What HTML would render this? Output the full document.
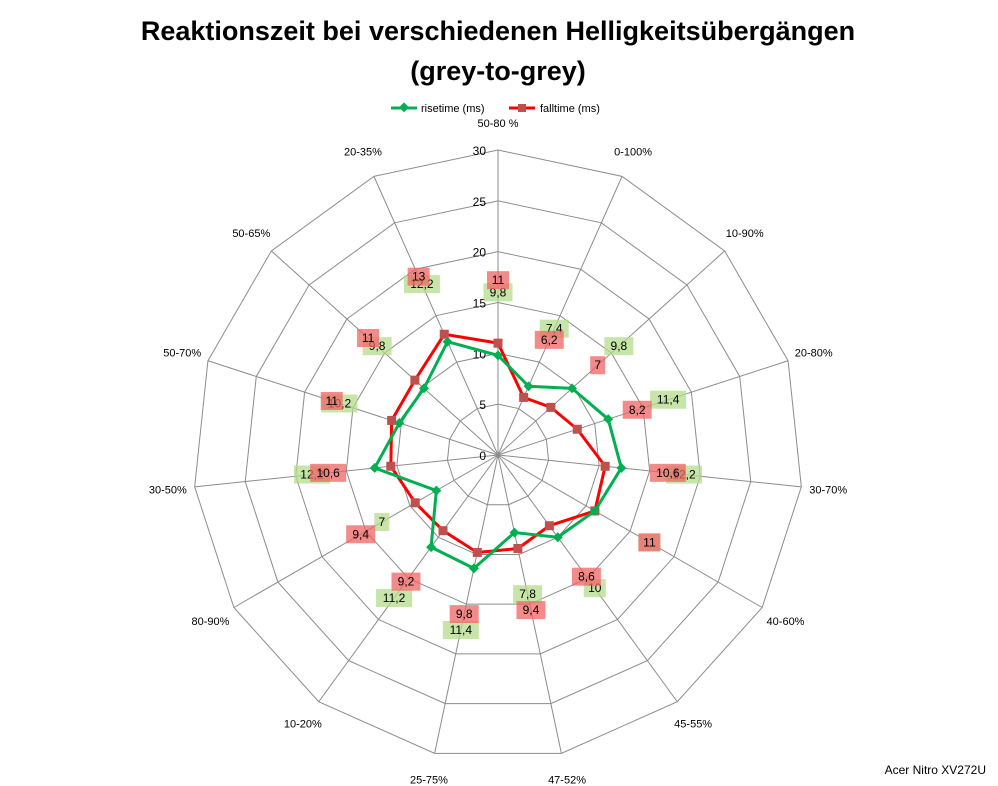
<!DOCTYPE html>
<html><head><meta charset="utf-8">
<style>
body{margin:0;background:#fff;width:998px;height:786px;overflow:hidden;font-family:"Liberation Sans",sans-serif;}
svg{display:block}
</style></head>
<body>
<svg id="chart" width="998" height="786">
<text x="498" y="40" text-anchor="middle" font-size="27" font-weight="bold">Reaktionszeit bei verschiedenen Helligkeitsübergängen</text>
<text x="498" y="80" text-anchor="middle" font-size="27" font-weight="bold">(grey-to-grey)</text>
<g>
<line x1="391" y1="108" x2="417" y2="108" stroke="#00b050" stroke-width="3"/>
<rect x="400" y="104" width="7" height="7" fill="#00b050" transform="rotate(45 404 108)"/>
<text x="421" y="112" font-size="11">risetime (ms)</text>
<line x1="509" y1="108" x2="535" y2="108" stroke="#ff0000" stroke-width="3"/>
<rect x="518" y="104" width="8" height="8" fill="#c0504d"/>
<text x="540" y="112" font-size="11">falltime (ms)</text>
</g>
<g id="grid"></g>
<g id="series"></g>
<g id="labels"></g>
<text x="986" y="774" text-anchor="end" font-size="12">Acer Nitro XV272U</text>
</svg>
<script>
const categories=["50-80 %","0-100%","10-90%","20-80%","30-70%","40-60%","45-55%","47-52%","25-75%","10-20%","80-90%","30-50%","50-70%","50-65%","20-35%"];
const rise=[9.8,7.4,9.8,11.4,12.2,11,10,7.8,11.4,11.2,7,12.2,10.2,9.8,12.2];
const fall=[11,6.2,7,8.2,10.6,11,8.6,9.4,9.8,9.2,9.4,10.6,11,11,13];
const ticks=[0,5,10,15,20,25,30];
const cx=498,cy=455,R=305,maxV=30;
const NS="http://www.w3.org/2000/svg";
const n=categories.length;
function ang(i){return i*2*Math.PI/n;}
function pt(i,v){const r=v/maxV*R;return [cx+r*Math.sin(ang(i)),cy-r*Math.cos(ang(i))];}
function mk(tag,attrs,parent){const e=document.createElementNS(NS,tag);for(const k in attrs)e.setAttribute(k,attrs[k]);parent.appendChild(e);return e;}
const grid=document.getElementById('grid');
ticks.forEach(t=>{if(t===0)return;
 const p=mk('polygon',{points:categories.map((c,i)=>pt(i,t).join(',')).join(' '),fill:'none',stroke:'#8c8c8c','stroke-width':1},grid);
 
 
});
categories.forEach((c,i)=>{
 const e=pt(i,maxV);
 const l=mk('line',{x1:cx,y1:cy,x2:e[0],y2:e[1],stroke:'#8c8c8c','stroke-width':1},grid);
 
 
 const r=R+27;
 const x=cx+r*Math.sin(ang(i)),y=cy-r*Math.cos(ang(i));
 const tx=mk('text',{x:x,y:y+4,'text-anchor':'middle','font-size':11},grid);
 tx.textContent=c;
 
 
});
ticks.forEach(t=>{
 const tx=mk('text',{x:cx-12,y:cy-t/maxV*R+5,'text-anchor':'end','font-size':12},grid);
 tx.textContent=t;
 
 
});
const series=document.getElementById('series');
function drawSeries(vals,color,mcolor,shape,name){
 const g=mk('g',{},series);
 
 
 mk('polygon',{points:vals.map((v,i)=>pt(i,v).join(',')).join(' '),fill:'none',stroke:color,'stroke-width':3,'stroke-linejoin':'round'},g);
 vals.forEach((v,i)=>{const p=pt(i,v);let m;
  if(shape==='diamond')m=mk('rect',{x:p[0]-3.5,y:p[1]-3.5,width:7,height:7,fill:mcolor,transform:`rotate(45 ${p[0]} ${p[1]})`},g);
  else m=mk('rect',{x:p[0]-4.5,y:p[1]-4.5,width:9,height:9,fill:mcolor},g);
  
  
 });
}
drawSeries(fall,'#ff0000','#c0504d','square','falltime');
drawSeries(rise,'#00b050','#00b050','diamond','risetime');
const labels=document.getElementById('labels');
function drawLabels(vals,bg,name){
 vals.forEach((v,i)=>{
  const r=v/maxV*R+63;
  const x=cx+r*Math.sin(ang(i)),y=cy-r*Math.cos(ang(i));
  const s=String(v).replace('.',',');
  const w=s.length*7+8;
  const g=mk('g',{},labels);
  
  
  mk('rect',{x:x-w/2,y:y-9,width:w,height:18,fill:bg,'fill-opacity':0.75},g);
  const t=mk('text',{x:x,y:y+4,'text-anchor':'middle','font-size':12},g);
  t.textContent=s;
 });
}
drawLabels(rise,'#b4dc8c','risetime');
drawLabels(fall,'#f06464','falltime');
</script>
</body></html>
